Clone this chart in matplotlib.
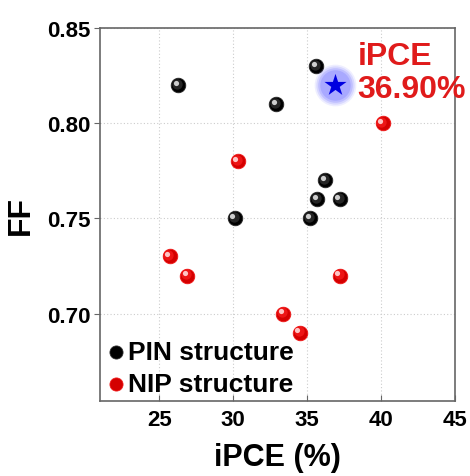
import matplotlib
matplotlib.use("Agg")
import matplotlib.pyplot as plt
import matplotlib.transforms as mtransforms
import numpy as np

plt.rcParams['font.family'] = ['Liberation Sans', 'DejaVu Sans']
plt.rcParams['font.weight'] = 'bold'

# PIN structure devices (iPCE %, FF)
pin_ipce = [26.3, 32.9, 35.6, 36.2, 35.7, 37.2, 30.1, 35.2]
pin_ff = [0.82, 0.81, 0.83, 0.77, 0.76, 0.76, 0.75, 0.75]

# NIP structure devices
nip_ipce = [40.1, 30.3, 25.7, 26.9, 37.2, 33.4, 34.5]
nip_ff = [0.80, 0.78, 0.73, 0.72, 0.72, 0.70, 0.69]

# highlighted device
star_ipce = [36.9]
star_ff = [0.82]
star_label = "iPCE\n36.90%"

x_ticks = [25, 30, 35, 40, 45]
y_ticks = [0.70, 0.75, 0.80, 0.85]

fig = plt.figure(figsize=(4.7, 4.77), dpi=100)
ax = fig.add_axes([0.213, 0.157, 0.755, 0.782])


def sphere(ax, x, y, base, mid, light, label=None):
    # base ball + offset highlight to mimic the shaded spheres
    h = ax.scatter(x, y, s=110, c=base, edgecolors=mid, linewidths=0.6,
                   zorder=3, label=label)
    for dx, dy, s, c, a in [(-0.8, 0.8, 55, mid, 0.9), (-1.6, 1.6, 14, light, 0.95)]:
        tr = mtransforms.offset_copy(ax.transData, fig=fig, x=dx, y=dy, units='points')
        ax.scatter(x, y, s=s, c=c, alpha=a, linewidths=0, zorder=4, transform=tr)
    return h


h_pin = sphere(ax, pin_ipce, pin_ff, '#000000', '#2a2a2a', '#d8d8d8', label='PIN structure')
h_nip = sphere(ax, nip_ipce, nip_ff, '#d40000', '#f01818', '#ffd0d0', label='NIP structure')

# glow round the star
for s, a in [(900, 0.12), (760, 0.18), (620, 0.25), (480, 0.3)]:
    ax.scatter(star_ipce, star_ff, s=s, c='#7878ff', alpha=a, linewidths=0, zorder=5)
ax.scatter(star_ipce, star_ff, s=280, marker='*', c='#0000e0', linewidths=0, zorder=6)
ax.text(38.4, 0.8268, star_label, color='#e01b1b', fontsize=23, fontweight='bold',
        ha='left', va='center', linespacing=1.15, zorder=7)

ax.set_xlim(21, 45)
ax.set_ylim(0.654, 0.85)
ax.set_xticks(x_ticks)
ax.set_yticks(y_ticks)
ax.set_yticklabels([f"{v:.2f}" for v in y_ticks])
ax.tick_params(axis='x', direction='in', length=4, labelsize=16, pad=6, color='#666666')
ax.tick_params(axis='y', direction='out', length=4, labelsize=16, pad=3, color='#666666')
for sp in ax.spines.values():
    sp.set_color('#666666')
    sp.set_linewidth(1.2)

ax.grid(True, linestyle=(0, (1, 2)), color='#cccccc', linewidth=0.8, zorder=0)
ax.set_axisbelow(True)

ax.set_xlabel("iPCE (%)", fontsize=22, fontweight='bold', labelpad=8)
ax.set_ylabel("FF", fontsize=23, fontweight='bold', labelpad=8)

leg = ax.legend(handles=[h_pin, h_nip], loc='lower left', frameon=False, fontsize=19,
                handletextpad=0.05, borderaxespad=0.0, labelspacing=0.3,
                handlelength=0.8, markerscale=0.9, borderpad=0.2)

fig.savefig("out.png", dpi=100)
